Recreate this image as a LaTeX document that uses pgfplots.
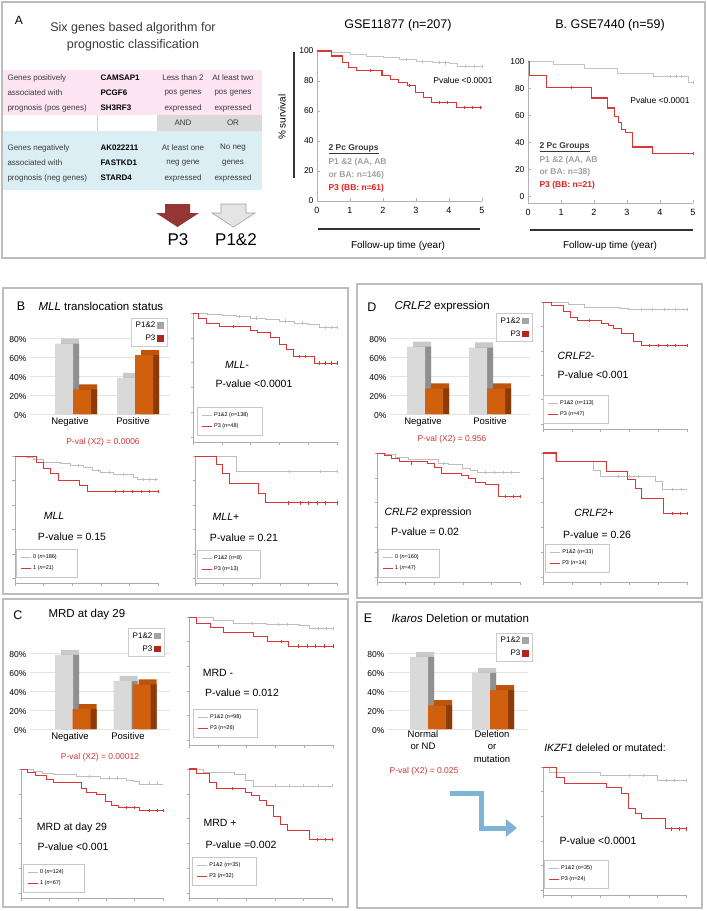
\documentclass[border=0pt]{standalone}
\usepackage{fontspec}
\setmainfont{Liberation Sans}
\usepackage{pgfplots}
\pgfplotsset{compat=1.18}
\usetikzlibrary{arrows.meta}
\newcommand{\fsz}[2]{\fontsize{#1}{#2}\selectfont}
\definecolor{kmgrey}{HTML}{BDBDBD}
\definecolor{kmred}{HTML}{D93636}
\definecolor{bargrey}{HTML}{D9D9D9}
\definecolor{greytop}{HTML}{C9C9C9}
\definecolor{greyside}{HTML}{8F8F8F}
\definecolor{barora}{HTML}{D0600E}
\definecolor{oratop}{HTML}{BC540C}
\definecolor{oraside}{HTML}{8A3B08}
\definecolor{leggrey}{HTML}{A5A5A5}
\definecolor{legred}{HTML}{B3261B}
\definecolor{pvred}{HTML}{D03535}
\definecolor{boxgrey}{HTML}{BDBDBD}
\definecolor{pinkbg}{HTML}{FCE4F2}
\definecolor{bluebg}{HTML}{DAEEF3}
\definecolor{cellgrey}{HTML}{D9D9D9}
\definecolor{arrowred}{HTML}{943634}
\definecolor{arrowblue}{HTML}{7FB3D5}
\definecolor{txtdark}{HTML}{3A3A3A}
\definecolor{grptxt}{HTML}{A0A0A0}
\definecolor{grpred}{HTML}{E0201F}
\pgfplotsset{
 every axis/.append style={/pgf/number format/assume math mode=true},
 km/.style={scale only axis, enlargelimits=false, clip=false,
  xmin=0, xmax=5, ymin=-4, ymax=100,
  axis x line*=bottom, axis y line*=left,
  axis line style={draw=gray!65, line width=0.4pt, -},
  xtick={0,1,2,3,4,5}, ytick={0,20,40,60,80,100},
  xticklabels={}, yticklabels={},
  tick style={draw=gray!65, line width=0.4pt},
  major tick length=2.5pt, tick align=outside,
  legend cell align=left,
  legend style={draw=gray!45, fill=white, font=\fsz{5.5}{6.5}, inner xsep=4pt, inner ysep=3.5pt, row sep=2pt, anchor=south west},
  legend image code/.code={\draw[##1] (0pt,0pt) -- (10pt,0pt);}},
 kmbig/.style={scale only axis, enlargelimits=false, clip=false,
  xmin=0, xmax=5, width=165pt,
  axis x line*=bottom, axis y line*=left,
  axis line style={draw=gray!60, line width=0.5pt, -},
  xtick={0,1,2,3,4,5}, ytick={0,20,40,60,80,100},
  tick style={draw=gray!60, line width=0.5pt},
  major tick length=3pt, tick align=inside,
  xticklabel style={font=\fsz{9}{10}, yshift=-3pt},
  yticklabel style={font=\fsz{8.5}{10}}},
 kmg/.style={const plot, mark=none, color=kmgrey, line width=0.6pt},
 kmr/.style={const plot, mark=none, color=kmred, line width=0.9pt},
 cg/.style={only marks, mark=|, mark size=1.6pt, forget plot, color=kmgrey, mark options={draw=kmgrey, line width=0.4pt}},
 cr/.style={only marks, mark=|, mark size=1.6pt, forget plot, color=kmred, mark options={draw=kmred, line width=0.5pt}},
 barax/.style={scale only axis, enlargelimits=false, clip=false,
  width=140pt, height=95pt, ymin=0, ymax=100,
  axis line style={draw=none}, major tick length=0pt,
  ytick={0,20,40,60,80}, yticklabel={\pgfmathprintnumber{\tick}\%},
  yticklabel style={font=\fsz{8.5}{10}, yshift=-2pt},
  xticklabel style={font=\fsz{9.5}{12.5}, align=center},
  ymajorgrids, grid style={draw=gray!22, line width=0.5pt},
  legend plot pos=right, legend cell align=right,
  legend style={draw=gray!40, font=\fsz{8}{9.5}, anchor=north east, inner xsep=3pt, inner ysep=2pt, row sep=2pt},
  legend image code/.code={\fill[##1, draw=none] (0pt,-3pt) rectangle (6.5pt,3.5pt);}},
 bart/.style={ybar, bar width=18pt, bar shift=0pt, draw=none, forget plot},
}
\begin{document}
\begin{tikzpicture}[x=1pt,y=-1pt]
\useasboundingbox (0,0) rectangle (707,911);
% ---------------- panel boxes
\draw[boxgrey, line width=2pt] (2,2) rectangle (705,258);
\draw[boxgrey, line width=2pt] (3,288) rectangle (348,594);
\draw[boxgrey, line width=2pt] (357,284) rectangle (702,598);
\draw[boxgrey, line width=2pt] (3,599) rectangle (348,907);
\draw[boxgrey, line width=2pt] (357,602) rectangle (702,908);

% ---------------- panel A : table
\node[font=\fsz{12}{14}] at (19,20) {A};
\node[font=\fsz{12.5}{14}, align=center, text=txtdark] at (133,37) {Six genes based algorithm for\\[3pt]prognostic classification};
\fill[pinkbg] (3,70) rectangle (262,115);
\fill[cellgrey] (157,115) rectangle (262,131);
\draw[gray!35, line width=0.4pt] (97,115) -- (97,131);
\fill[bluebg] (3,131) rectangle (262,190);
\begin{scope}[every node/.style={font=\fsz{8}{9}, text=txtdark}]
\node[anchor=west] at (4,78) {Genes positively};
\node[anchor=west] at (4,93) {associated with};
\node[anchor=west] at (4,108) {prognosis (pos genes)};
\node[anchor=west] at (4,148) {Genes negatively};
\node[anchor=west] at (4,163) {associated with};
\node[anchor=west] at (4,178) {prognosis (neg genes)};
\node[anchor=west, font=\fsz{8}{9}\bfseries, text=black] at (97,78) {CAMSAP1};
\node[anchor=west, font=\fsz{8}{9}\bfseries, text=black] at (97,93) {PCGF6};
\node[anchor=west, font=\fsz{8}{9}\bfseries, text=black] at (97,108) {SH3RF3};
\node[anchor=west, font=\fsz{8}{9}\bfseries, text=black] at (97,148) {AK022211};
\node[anchor=west, font=\fsz{8}{9}\bfseries, text=black] at (97,163) {FASTKD1};
\node[anchor=west, font=\fsz{8}{9}\bfseries, text=black] at (97,178) {STARD4};
\node at (183,78) {Less than 2};
\node at (183,93) {pos genes};
\node at (183,108) {expressed};
\node at (233,78) {At least two};
\node at (233,93) {pos genes};
\node at (233,108) {expressed};
\node at (183,123) {AND};
\node at (233,123) {OR};
\node at (183,148) {At least one};
\node at (183,163) {neg gene};
\node at (183,178) {expressed};
\node at (233,148) {No neg};
\node at (233,163) {genes};
\node at (233,178) {expressed};
\end{scope}
\fill[arrowred] (165,204) -- (190,204) -- (190,213) -- (199,213) -- (177.5,227) -- (156,213) -- (165,213) -- cycle;
\filldraw[fill=cellgrey!70, draw=gray!75, line width=0.6pt] (221,204) -- (246,204) -- (246,213) -- (255,213) -- (233.5,227) -- (212,213) -- (221,213) -- cycle;
\node[font=\fsz{17}{19}] at (178,240) {P3};
\node[font=\fsz{17}{19}] at (236,240) {P1\&2};

% ---------------- panel A : GSE11877
\node[font=\fsz{12.5}{14}] at (398,25) {GSE11877 (n=207)};
\node[font=\fsz{10}{12}, rotate=90] at (282,117) {\% survival};
\draw[black!80, line width=1.2pt] (294,52) -- (294,178);
\draw[black!80, line width=1.2pt] (318,229) -- (480,229);
\node[font=\fsz{10}{12}] at (398,246) {Follow-up time (year)};
\begin{axis}[kmbig, at={(317pt,-201pt)}, anchor=south west, height=150pt, ymin=0, ymax=100]
\addplot[kmg, color=kmgrey!90, line width=0.9pt] coordinates {(0,100) (0.45,99) (1.0,97.6) (1.5,96.6) (2.0,95.6) (2.5,94.2) (3.0,93.2) (3.5,92.5) (4.0,92.0) (4.25,89.8) (5,89.8)};
\addplot[kmr, line width=1.1pt] coordinates {(0,100) (0.45,96.7) (0.76,92.3) (0.96,89) (1.21,86.8) (1.97,83.5) (2.22,81.3) (2.47,79.1) (2.73,76.9) (2.98,72.5) (3.23,69.2) (3.48,65.9) (4.22,62.6) (5,62.6)};
\addplot[cg] coordinates {(2.7,94.2) (3.2,93.2) (3.7,92.5) (3.9,92.0) (4.5,89.8) (4.75,89.8) (5,89.8)};
\addplot[cr] coordinates {(1.6,86.8) (2.8,76.9) (3.7,65.9) (3.95,65.9) (4.45,62.6) (4.7,62.6) (4.95,62.6)};
\end{axis}
\node[font=\fsz{8.5}{10}] at (463,80) {Pvalue <0.0001};
\node[anchor=west, font=\fsz{8.5}{10}\bfseries, text=txtdark] at (325,149) {\underline{2 Pc Groups}};
\node[anchor=west, font=\fsz{8.5}{10}\bfseries, text=grptxt] at (325,162) {P1 \&2 (AA, AB};
\node[anchor=west, font=\fsz{8.5}{10}\bfseries, text=grptxt] at (325,175) {or BA: n=146)};
\node[anchor=west, font=\fsz{8.5}{10}\bfseries, text=grpred] at (325,188) {P3 (BB: n=61)};

% ---------------- panel A : GSE7440
\node[font=\fsz{12.5}{14}] at (610,25) {B. GSE7440 (n=59)};
\draw[black!80, line width=1.2pt] (530,230) -- (693,230);
\node[font=\fsz{10}{12}] at (610,246) {Follow-up time (year)};
\begin{axis}[kmbig, at={(528pt,-203pt)}, anchor=south west, height=141.75pt, ymin=-5, ymax=100]
\addplot[kmg, color=kmgrey!90, line width=0.9pt] coordinates {(0,100) (0.76,97.5) (1.72,94.5) (2.7,91.2) (3.8,88.5) (4.85,84.5) (5,84.5)};
\addplot[kmr, line width=1.1pt] coordinates {(0,100) (0.04,89.6) (0.56,80.7) (1.92,72.8) (2.42,65.4) (2.63,59.3) (2.73,54.3) (2.83,49.4) (2.95,46.9) (3.18,36.5) (3.76,31.4) (5,31.4)};
\addplot[cg] coordinates {(4.3,88.5) (4.5,88.5) (4.65,88.5) (5,84.5)};
\addplot[cr] coordinates {(1.3,80.7) (5,31.4)};
\end{axis}
\node[font=\fsz{8.5}{10}] at (660,100) {Pvalue <0.0001};
\node[anchor=west, font=\fsz{8.5}{10}\bfseries, text=txtdark] at (536,147) {\underline{2 Pc Groups}};
\node[anchor=west, font=\fsz{8.5}{10}\bfseries, text=grptxt] at (536,160) {P1 \&2 (AA, AB};
\node[anchor=west, font=\fsz{8.5}{10}\bfseries, text=grptxt] at (536,172) {or BA: n=38)};
\node[anchor=west, font=\fsz{8.5}{10}\bfseries, text=grpred] at (536,185) {P3 (BB: n=21)};

% ================= panel B
\node[font=\fsz{12.5}{14}] at (21,306) {B};
\node[anchor=west, font=\fsz{11.5}{13}] at (35,306) {\textit{MLL} translocation status};
\begin{axis}[barax, at={(30pt,-414pt)}, anchor=south west, xmin=30, xmax=170,
  xtick={70,133}, xticklabels={Negative,Positive},
  legend style={at={(axis cs:167,101)}}]
\addplot[bart, fill=greytop] coordinates {(70,79.3) (132,43.3)};
\addplot[bart, fill=greyside] coordinates {(70,74) (132,38)};
\addplot[bart, fill=bargrey] coordinates {(64,74) (126,38)};
\addplot[bart, fill=oratop] coordinates {(88,31.3) (150,67.3)};
\addplot[bart, fill=oraside] coordinates {(88,26) (150,62)};
\addplot[bart, fill=barora] coordinates {(82,26) (144,62)};
\addlegendimage{fill=leggrey}\addlegendentry{P1\&2}
\addlegendimage{fill=legred}\addlegendentry{P3}
\end{axis}
\node[font=\fsz{8.5}{10}, text=pvred] at (103,442) {P-val (X2) = 0.0006};
% MLL-
\begin{axis}[km, at={(193pt,-442pt)}, anchor=south west, width=144pt, height=129pt,
  legend style={at={(0.028,0.054)}}]
\addplot[kmg] coordinates {(0,100) (0.5,99) (1.0,98) (1.5,97) (2.0,96) (2.5,95) (3.0,93.5) (3.5,92) (4.0,90.5) (4.4,88.5) (5,88.5)};
\addlegendentry{P1\&2 (\textit{n}=138)\hspace*{8pt}}
\addplot[kmr] coordinates {(0,100) (0.2,95.4) (0.47,91.4) (0.93,89) (1.98,86) (2.23,84.7) (2.7,80) (3.0,74.7) (3.23,70.4) (3.49,65) (4.2,59.7) (5,59.7)};
\addlegendentry{P3 (\textit{n}=48)}
\addplot[cg] coordinates {(1.6,97) (2.2,96) (3.2,93.5) (3.8,92) (4.6,88.5) (4.8,88.5) (5,88.5)};
\addplot[cr] coordinates {(1.4,89) (3.7,65) (3.9,65) (4.4,59.7) (4.6,59.7) (4.8,59.7) (5,59.7)};
\end{axis}
\node[font=\fsz{10.5}{12}] at (237,365) {\textit{MLL-}};
\node[font=\fsz{10.5}{12}] at (254,384) {P-value <0.0001};
% MLL
\begin{axis}[km, at={(15pt,-583pt)}, anchor=south west, width=143pt, height=127pt,
  legend style={at={(0.007,0.047)}}]
\addplot[kmg] coordinates {(0,100) (0.4,98.6) (0.65,97) (1.0,95) (1.58,93.7) (1.93,92.3) (2.4,90.4) (2.7,88.2) (3.0,86.3) (3.45,84.7) (4.15,82.7) (4.27,81) (5,81)};
\addlegendentry{0 (\textit{n}=186)\hspace*{14pt}}
\addplot[kmr] coordinates {(0,100) (0.74,94.5) (1.0,90) (1.25,85.5) (1.52,80) (2.25,75.9) (2.52,71) (5,71)};
\addlegendentry{1 (\textit{n}=21)}
\addplot[cg] coordinates {(2.2,92.3) (2.9,88.2) (3.3,86.3) (3.8,84.7) (4.5,81) (4.7,81) (4.9,81)};
\addplot[cr] coordinates {(3.5,71) (3.8,71) (4.1,71) (4.4,71) (4.7,71) (5,71)};
\end{axis}
\node[font=\fsz{10.5}{12}] at (54,516) {\textit{MLL}};
\node[font=\fsz{10.5}{12}] at (72,537) {P-value = 0.15};
% MLL+
\begin{axis}[km, at={(195pt,-583pt)}, anchor=south west, width=142pt, height=127pt,
  legend style={at={(0.014,0.039)}}]
\addplot[kmg] coordinates {(0,100) (1.47,87.4) (5,87.4)};
\addlegendentry{P1\&2 (\textit{n}=8)\hspace*{12pt}}
\addplot[kmr] coordinates {(0,100) (0.74,92.9) (0.98,85.5) (1.21,77.3) (2.24,69) (2.47,61.6) (5,61.6)};
\addlegendentry{P3 (\textit{n}=13)}
\addplot[cg] coordinates {(3.3,87.4) (4.4,87.4) (5,87.4)};
\addplot[cr] coordinates {(3.3,61.6) (3.7,61.6) (4.0,61.6) (4.3,61.6) (4.6,61.6) (5,61.6)};
\end{axis}
\node[font=\fsz{10.5}{12}] at (226,517) {\textit{MLL}+};
\node[font=\fsz{10.5}{12}] at (244,538) {P-value = 0.21};

% ================= panel D
\node[font=\fsz{12.5}{14}] at (372,307) {D};
\node[anchor=west, font=\fsz{11.5}{13}] at (391,307) {\textit{CRLF2} expression};
\begin{axis}[barax, at={(390pt,-414pt)}, anchor=south west, xmin=390, xmax=530,
  xtick={423,490}, xticklabels={Negative,Positive},
  legend style={at={(axis cs:532,106)}}]
\addplot[bart, fill=greytop] coordinates {(422,76.3) (484,75.3)};
\addplot[bart, fill=greyside] coordinates {(422,71) (484,70)};
\addplot[bart, fill=bargrey] coordinates {(416,71) (478,70)};
\addplot[bart, fill=oratop] coordinates {(440,32.3) (502,32.3)};
\addplot[bart, fill=oraside] coordinates {(440,27) (502,27)};
\addplot[bart, fill=barora] coordinates {(434,27) (496,27)};
\addlegendimage{fill=leggrey}\addlegendentry{P1\&2}
\addlegendimage{fill=legred}\addlegendentry{P3}
\end{axis}
\node[font=\fsz{8.5}{10}, text=pvred] at (452,439) {P-val (X2) = 0.956};
% CRLF2-
\begin{axis}[km, at={(543pt,-429pt)}, anchor=south west, width=144pt, height=127pt,
  legend style={at={(0.0,0.047)}}]
\addplot[kmg] coordinates {(0,100) (0.87,98) (1.45,96) (2.7,95) (2.97,93.7) (5,93.7)};
\addlegendentry{P1\&2 (\textit{n}=113)\hspace*{8pt}}
\addplot[kmr] coordinates {(0,100) (0.29,97.3) (0.7,92.3) (0.97,87.7) (1.2,85) (2.03,82.7) (2.27,80.8) (2.44,78) (2.73,74) (3.14,68) (3.43,64.4) (5,64.4)};
\addlegendentry{P3 (\textit{n}=47)}
\addplot[cg] coordinates {(3.4,93.7) (3.8,93.7) (4.2,93.7) (4.6,93.7) (5,93.7)};
\addplot[cr] coordinates {(1.6,85) (3.7,64.4) (4.0,64.4) (4.3,64.4) (4.6,64.4) (5,64.4)};
\end{axis}
\node[font=\fsz{10.5}{12}] at (576,356) {\textit{CRLF2-}};
\node[font=\fsz{10.5}{12}] at (593,375) {P-value <0.001};
% CRLF2 expression
\begin{axis}[km, at={(377pt,-582pt)}, anchor=south west, width=143pt, height=129pt,
  legend style={at={(0.007,0.039)}}]
\addplot[kmg] coordinates {(0,100) (0.3,98.6) (0.64,96.7) (1.1,94.6) (2.15,91.8) (2.5,90.5) (2.97,87.8) (3.26,86.4) (3.5,84.5) (5,84.5)};
\addlegendentry{0 (\textit{n}=160)\hspace*{14pt}}
\addplot[kmr] coordinates {(0,100) (0.27,97.8) (0.52,95.9) (0.78,93.2) (1.78,91.8) (2.0,88.6) (2.27,83.7) (2.97,82.3) (3.2,79.6) (3.43,76.4) (3.78,75) (4.24,64.7) (5,64.7)};
\addlegendentry{1 (\textit{n}=47)}
\addplot[cg] coordinates {(2.3,91.8) (3.8,84.5) (4.1,84.5) (4.4,84.5) (4.7,84.5)};
\addplot[cr] coordinates {(1.2,91.8) (4.5,64.7) (4.75,64.7) (5,64.7)};
\end{axis}
\node[font=\fsz{10.5}{12}] at (428,513) {\textit{CRLF2} expression};
\node[font=\fsz{10.5}{12}] at (425,532) {P-value = 0.02};
% CRLF2+
\begin{axis}[km, at={(543pt,-582pt)}, anchor=south west, width=144pt, height=129pt,
  legend style={at={(0.014,0.078)}}]
\addplot[kmg] coordinates {(0,100) (0.41,93.2) (1.74,86.4) (1.98,81) (3.9,77) (4.13,70.7) (5,70.7)};
\addlegendentry{P1\&2 (\textit{n}=33)\hspace*{10pt}}
\addplot[kmr, line width=1.1pt] coordinates {(0,100) (0.47,93.2) (2.21,85) (2.94,78.3) (3.2,71.5) (3.43,63.3) (4.19,51) (5,51)};
\addlegendentry{P3 (\textit{n}=14)}
\addplot[cg] coordinates {(2.6,81) (3.0,81) (3.3,81) (4.5,70.7) (4.8,70.7)};
\addplot[cr] coordinates {(4.5,51) (4.75,51) (5,51)};
\end{axis}
\node[font=\fsz{10.5}{12}] at (594,513) {\textit{CRLF2}+};
\node[font=\fsz{10.5}{12}] at (597,535) {P-value = 0.26};

% ================= panel C
\node[font=\fsz{12.5}{14}] at (18,615) {C};
\node[anchor=west, font=\fsz{11.5}{13}] at (45,615) {MRD at day 29};
\begin{axis}[barax, at={(30pt,-729pt)}, anchor=south west, xmin=30, xmax=170,
  xtick={70,128}, xticklabels={Negative,Positive},
  legend style={at={(axis cs:164,106)}}]
\addplot[bart, fill=greytop] coordinates {(70,83.3) (128.5,55.8)};
\addplot[bart, fill=greyside] coordinates {(70,78) (128.5,50.5)};
\addplot[bart, fill=bargrey] coordinates {(64,78) (122.5,50.5)};
\addplot[bart, fill=oratop] coordinates {(87.5,26.3) (147.5,52.3)};
\addplot[bart, fill=oraside] coordinates {(87.5,21) (147.5,47)};
\addplot[bart, fill=barora] coordinates {(81.5,21) (141.5,47)};
\addlegendimage{fill=leggrey}\addlegendentry{P1\&2}
\addlegendimage{fill=legred}\addlegendentry{P3}
\end{axis}
\node[font=\fsz{8.5}{10}, text=pvred] at (100,757) {P-val (X2) = 0.00012};
% MRD -
\begin{axis}[km, at={(189pt,-745pt)}, anchor=south west, width=144pt, height=128pt,
  legend style={at={(0.028,0.0625)}}]
\addplot[kmg] coordinates {(0,100) (0.83,97.3) (1.53,95) (2.7,94) (3.84,93.2) (4.19,90.5) (5,90.5)};
\addlegendentry{P1\&2 (\textit{n}=98)\hspace*{10pt}}
\addplot[kmr] coordinates {(0,100) (0.25,95.1) (0.74,91.8) (1.2,87.8) (2.25,84.2) (2.71,80.4) (3.46,76.4) (5,76.4)};
\addlegendentry{P3 (\textit{n}=26)}
\addplot[cg] coordinates {(2.2,95) (3.1,94) (3.4,94) (4.5,90.5) (4.75,90.5) (5,90.5)};
\addplot[cr] coordinates {(3.2,80.4) (3.8,76.4) (4.1,76.4) (4.4,76.4) (4.7,76.4) (5,76.4)};
\end{axis}
\node[font=\fsz{10.5}{12}] at (218,673) {MRD -};
\node[font=\fsz{10.5}{12}] at (242,693) {P-value = 0.012};
% MRD at day 29
\begin{axis}[km, at={(21pt,-898pt)}, anchor=south west, width=142pt, height=129pt,
  legend style={at={(0.014,0.047)}}]
\addplot[kmg] coordinates {(0,100) (0.44,98.1) (0.74,96.7) (1.14,95.4) (1.96,94) (2.78,92.7) (3.71,91.3) (3.95,89.9) (4.18,88) (5,88)};
\addlegendentry{0 (\textit{n}=124)\hspace*{14pt}}
\addplot[kmr] coordinates {(0,100) (0.21,97.3) (0.5,94.8) (0.91,91.3) (1.14,89.4) (2.14,84.5) (2.29,81.3) (2.66,79.1) (2.96,73.6) (3.19,70.9) (3.42,69) (4.18,66.3) (5,66.3)};
\addlegendentry{1 (\textit{n}=67)}
\addplot[cg] coordinates {(2.4,94) (3.1,92.7) (3.4,92.7) (4.5,88) (4.8,88)};
\addplot[cr] coordinates {(3.7,69) (4.0,69) (4.5,66.3) (4.8,66.3) (5,66.3)};
\end{axis}
\node[font=\fsz{10.5}{12}] at (72,828) {MRD at day 29};
\node[font=\fsz{10.5}{12}] at (73,847) {P-value <0.001};
% MRD +
\begin{axis}[km, at={(189pt,-898pt)}, anchor=south west, width=143pt, height=129pt,
  legend style={at={(0.021,0.10)}}]
\addplot[kmg] coordinates {(0,100) (0.49,97.3) (1.6,95.4) (1.96,91.3) (2.25,86.4) (5,86.4)};
\addlegendentry{P1\&2 (\textit{n}=35)\hspace*{10pt}}
\addplot[kmr, line width=1.1pt] coordinates {(0,100) (0.26,96.2) (0.73,89.1) (0.96,84.5) (1.99,81) (2.19,78.3) (2.48,74.5) (2.72,70.9) (2.95,61.4) (3.21,55.4) (3.44,50.5) (4.22,43.2) (5,43.2)};
\addlegendentry{P3 (\textit{n}=32)}
\addplot[cg] coordinates {(3.0,86.4) (3.5,86.4) (4.0,86.4) (4.5,86.4) (5,86.4)};
\addplot[cr] coordinates {(1.5,84.5) (4.5,43.2) (4.75,43.2) (5,43.2)};
\end{axis}
\node[font=\fsz{10.5}{12}] at (220,823) {MRD +};
\node[font=\fsz{10.5}{12}] at (241,845) {P-value =0.002};

% ================= panel E
\node[font=\fsz{12.5}{14}] at (368,618) {E};
\node[anchor=west, font=\fsz{11.5}{13}] at (388,618) {\textit{Ikaros} Deletion or mutation};
\begin{axis}[barax, at={(388pt,-729pt)}, anchor=south west, xmin=388, xmax=528,
  xtick={423,492}, xticklabels={{Normal\\or ND},{Deletion\\or\\mutation}},
  xticklabel style={yshift=2pt},
  legend style={at={(axis cs:532,101)}}]
\addplot[bart, fill=greytop] coordinates {(425,81.3) (487,64.3)};
\addplot[bart, fill=greyside] coordinates {(425,76) (487,59)};
\addplot[bart, fill=bargrey] coordinates {(419,76) (481,59)};
\addplot[bart, fill=oratop] coordinates {(443,30.3) (505,46.3)};
\addplot[bart, fill=oraside] coordinates {(443,25) (505,41)};
\addplot[bart, fill=barora] coordinates {(437,25) (499,41)};
\addlegendimage{fill=leggrey}\addlegendentry{P1\&2}
\addlegendimage{fill=legred}\addlegendentry{P3}
\end{axis}
\node[font=\fsz{8.5}{10}, text=pvred] at (424,771) {P-val (X2) = 0.025};
\node[font=\fsz{10.5}{12}] at (605,748) {\textit{IKZF1} deleled or mutated:};
\draw[arrowblue, line width=5pt, -{Triangle[length=11pt,width=17pt]}] (450,793) -- (481,793) -- (481,828) -- (517,828);
% IKZF1
\begin{axis}[km, at={(543pt,-895pt)}, anchor=south west, width=143pt, height=128pt,
  legend style={at={(0.007,0.055)}}]
\addplot[kmg] coordinates {(0,100) (0.23,95.9) (1.99,93.2) (3.98,89.1) (5,89.1)};
\addlegendentry{P1\&2 (\textit{n}=35)\hspace*{10pt}}
\addplot[kmr] coordinates {(0,100) (0.47,91.3) (0.76,87) (2.22,83.2) (2.73,78.8) (2.99,66) (3.22,62.5) (3.45,57.9) (4.27,49.7) (5,49.7)};
\addlegendentry{P3 (\textit{n}=24)}
\addplot[cg] coordinates {(3.0,93.2) (3.5,93.2) (4.3,89.1) (4.6,89.1) (5,89.1)};
\addplot[cr] coordinates {(4.5,49.7) (4.75,49.7) (5,49.7)};
\end{axis}
\node[font=\fsz{10.5}{12}] at (598,841) {P-value <0.0001};
\end{tikzpicture}
\end{document}
